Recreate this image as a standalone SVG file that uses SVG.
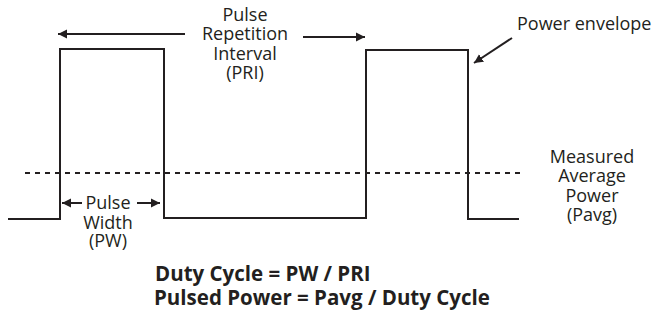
<svg xmlns="http://www.w3.org/2000/svg" width="659" height="320" viewBox="0 0 659 320">
  <style>
    .wave { fill: none; stroke: #231f20; stroke-width: 2; }
    .avg { fill: none; stroke: #231f20; stroke-width: 1.8; stroke-dasharray: 5 5; }
    .conn { fill: none; stroke: #231f20; stroke-width: 2; marker-end: url(#arrow); }
    .lbl { font-family: "Open Sans", "Noto Sans", sans-serif; font-size: 18px; fill: #231f20; text-anchor: middle; }
    .lbl-l { font-family: "Open Sans", "Noto Sans", sans-serif; font-size: 18px; fill: #231f20; }
    .eq { font-family: "Open Sans", "Noto Sans", sans-serif; font-size: 20.5px; font-weight: bold; fill: #231f20; }
  </style>
  <defs>
    <marker id="arrow" viewBox="0 0 10 10" refX="10" refY="5" markerWidth="9" markerHeight="10" markerUnits="userSpaceOnUse" orient="auto">
      <path d="M0,0 L10,5 L0,10 z" fill="#231f20"/>
    </marker>
  </defs>
  <rect width="659" height="320" fill="#ffffff"/>

  <g id="waveform">
    <path class="wave" d="M8,219 H60 V49 H164 V218 H366 V50 H468 V219 H519"/>
  </g>
  <g id="average-line">
    <line class="avg" x1="25" y1="173" x2="523" y2="173"/>
  </g>

  <g id="connectors">
    <line class="conn" x1="185" y1="34" x2="58" y2="34"/>
    <line class="conn" x1="303" y1="37" x2="365" y2="37"/>
    <line class="conn" x1="82" y1="203" x2="62" y2="203"/>
    <line class="conn" x1="137" y1="203" x2="160" y2="203"/>
    <line class="conn" x1="512" y1="38" x2="474" y2="63"/>
  </g>

  <g id="pri-label">
    <text class="lbl" x="245" y="21">Pulse</text>
    <text class="lbl" x="245" y="40">Repetition</text>
    <text class="lbl" x="245" y="60">Interval</text>
    <text class="lbl" x="245" y="79">(PRI)</text>
  </g>

  <g id="power-envelope-label">
    <text class="lbl-l" x="517" y="30">Power envelope</text>
  </g>

  <g id="pw-label">
    <text class="lbl" x="108" y="209">Pulse</text>
    <text class="lbl" x="108" y="229">Width</text>
    <text class="lbl" x="108" y="247">(PW)</text>
  </g>

  <g id="pavg-label">
    <text class="lbl" x="592" y="163">Measured</text>
    <text class="lbl" x="592" y="182">Average</text>
    <text class="lbl" x="592" y="202">Power</text>
    <text class="lbl" x="592" y="221">(Pavg)</text>
  </g>

  <g id="equations">
    <text class="eq" x="155" y="281">Duty Cycle = PW / PRI</text>
    <text class="eq" x="154" y="305">Pulsed Power = Pavg / Duty Cycle</text>
  </g>
</svg>
